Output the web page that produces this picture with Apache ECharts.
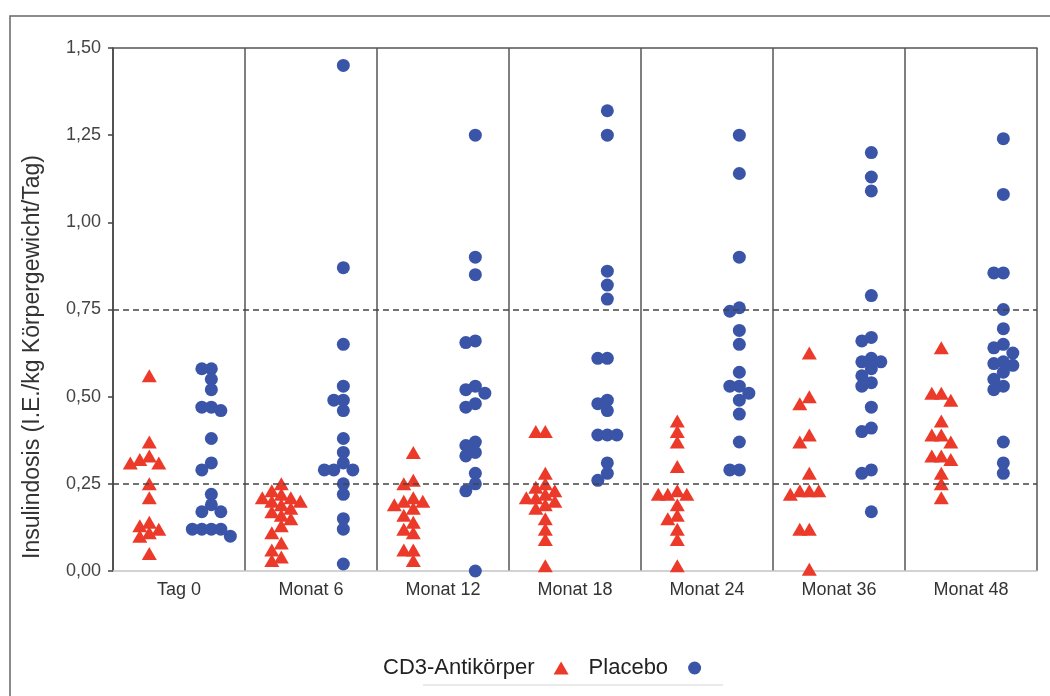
<!DOCTYPE html>
<html>
<head>
<meta charset="utf-8">
<script src="https://cdn.jsdelivr.net/npm/echarts@6/dist/echarts.min.js"></script>
<style>
  html, body { margin: 0; padding: 0; background: #fff; }
  #chart { width: 1050px; height: 696px; }
</style>
</head>
<body>
<div id="chart"></div>
<script>
// data
var categories = ['Tag 0', 'Monat 6', 'Monat 12', 'Monat 18', 'Monat 24', 'Monat 36', 'Monat 48'];

var cd3Values = [
  [0.56, 0.37, 0.33, 0.32, 0.31, 0.31, 0.25, 0.21, 0.14, 0.13, 0.12, 0.11, 0.10, 0.05],
  [0.25, 0.23, 0.22, 0.21, 0.21, 0.20, 0.20, 0.19, 0.18, 0.17, 0.16, 0.15, 0.13, 0.11, 0.08, 0.06, 0.04, 0.03],
  [0.34, 0.26, 0.25, 0.21, 0.20, 0.20, 0.19, 0.18, 0.16, 0.14, 0.12, 0.11, 0.06, 0.06, 0.03],
  [0.40, 0.40, 0.28, 0.25, 0.24, 0.23, 0.22, 0.21, 0.21, 0.20, 0.19, 0.18, 0.15, 0.12, 0.09, 0.015],
  [0.43, 0.40, 0.37, 0.30, 0.23, 0.22, 0.22, 0.22, 0.19, 0.16, 0.15, 0.12, 0.09, 0.015],
  [0.625, 0.50, 0.48, 0.39, 0.37, 0.28, 0.23, 0.23, 0.23, 0.22, 0.12, 0.12, 0.005],
  [0.64, 0.51, 0.51, 0.49, 0.43, 0.39, 0.39, 0.37, 0.33, 0.33, 0.32, 0.28, 0.25, 0.21]
];

var placeboValues = [
  [0.58, 0.58, 0.55, 0.52, 0.47, 0.47, 0.46, 0.38, 0.31, 0.29, 0.22, 0.19, 0.17, 0.17, 0.12, 0.12, 0.12, 0.12, 0.10],
  [1.45, 0.87, 0.65, 0.53, 0.49, 0.49, 0.46, 0.38, 0.34, 0.31, 0.29, 0.29, 0.29, 0.25, 0.22, 0.15, 0.12, 0.02],
  [1.25, 0.90, 0.85, 0.66, 0.655, 0.53, 0.52, 0.51, 0.48, 0.47, 0.37, 0.36, 0.34, 0.33, 0.28, 0.25, 0.23, 0.00],
  [1.32, 1.25, 0.86, 0.82, 0.78, 0.61, 0.61, 0.49, 0.48, 0.46, 0.39, 0.39, 0.39, 0.31, 0.28, 0.26],
  [1.25, 1.14, 0.90, 0.755, 0.745, 0.69, 0.65, 0.57, 0.53, 0.53, 0.51, 0.49, 0.45, 0.37, 0.29, 0.29],
  [1.20, 1.13, 1.09, 0.79, 0.67, 0.66, 0.61, 0.60, 0.60, 0.58, 0.56, 0.54, 0.53, 0.47, 0.41, 0.40, 0.29, 0.28, 0.17],
  [1.24, 1.08, 0.855, 0.855, 0.75, 0.695, 0.65, 0.64, 0.625, 0.60, 0.595, 0.59, 0.57, 0.55, 0.53, 0.52, 0.37, 0.31, 0.28]
];

var refLines = [0.25, 0.75];
var yMin = 0, yMax = 1.5, yStep = 0.25;

// layout
var W = 1050, H = 696;
var gridLeft = 113, gridRight = 13, gridTop = 48, gridBottom = 125;
var pxPerCat = (W - gridLeft - gridRight) / categories.length;
var pxPerY = (H - gridTop - gridBottom) / (yMax - yMin);

// simple beeswarm: spread points sideways so they do not sit on each other
function swarm(values, center) {
  var step = 9.5, minDist = 9;
  var sorted = values.slice().sort(function (a, b) { return b - a; });
  var placed = [];
  var out = [];
  sorted.forEach(function (v) {
    for (var n = 0; n < 40; n++) {
      var k = n === 0 ? 0 : (n % 2 ? -Math.ceil(n / 2) : Math.ceil(n / 2));
      var dx = k * step;
      var ok = placed.every(function (p) {
        var ddx = dx - p.dx, ddy = (v - p.v) * pxPerY;
        return ddx * ddx + ddy * ddy >= minDist * minDist;
      });
      if (ok) {
        placed.push({ dx: dx, v: v });
        out.push([center + dx / pxPerCat, v]);
        break;
      }
    }
  });
  return out;
}

var cd3Data = [], placeboData = [];
categories.forEach(function (c, i) {
  cd3Data = cd3Data.concat(swarm(cd3Values[i], i - 0.225));
  placeboData = placeboData.concat(swarm(placeboValues[i], i + 0.245));
});

var dom = document.getElementById('chart');
var myChart = echarts.init(dom, null, { renderer: 'canvas' });

var option = {
  animation: false,
  backgroundColor: '#fff',
  grid: { left: gridLeft, right: gridRight, top: gridTop, bottom: gridBottom },
  legend: {
    left: 378,
    top: 652,
    align: 'right',
    itemGap: 20,
    itemWidth: 15,
    itemHeight: 13,
    textStyle: { fontFamily: 'Liberation Sans', fontSize: 22, color: '#222', padding: [0, 14, 0, 0] },
    data: [
      { name: 'CD3-Antikörper', icon: 'triangle' },
      { name: 'Placebo', icon: 'circle' }
    ]
  },
  xAxis: [
    {
      type: 'category',
      data: categories,
      boundaryGap: true,
      axisLine: { show: true, onZero: false, lineStyle: { color: '#c4c4c4', width: 1.5 } },
      axisTick: { show: false },
      axisLabel: { fontFamily: 'Liberation Sans', fontSize: 18, color: '#333', margin: 10 },
      splitLine: { show: true, lineStyle: { color: '#555', width: 1.5 } }
    },
    {
      type: 'value',
      position: 'top',
      min: -0.5,
      max: categories.length - 0.5,
      axisLine: { show: true, onZero: false, lineStyle: { color: '#555', width: 1.5 } },
      axisTick: { show: false },
      axisLabel: { show: false },
      splitLine: { show: false }
    }
  ],
  yAxis: {
    type: 'value',
    min: yMin,
    max: yMax,
    interval: yStep,
    axisLine: { show: true, onZero: false, lineStyle: { color: '#444', width: 1.5 } },
    axisTick: { show: true, length: 5, lineStyle: { color: '#444', width: 1.5 } },
    axisLabel: {
      fontFamily: 'Liberation Sans', fontSize: 18, color: '#444', margin: 12,
      formatter: function (v) { return v.toFixed(2).replace('.', ','); }
    },
    splitLine: { show: false }
  },
  graphic: [
    {
      type: 'polyline',
      shape: { points: [[10, H], [10, 16], [W, 16]] },
      style: { stroke: '#666', lineWidth: 1.5, fill: null },
      silent: true
    },
    {
      type: 'line',
      shape: { x1: 423, y1: 685, x2: 723, y2: 685 },
      style: { stroke: '#d4d4d4', lineWidth: 1 },
      silent: true
    },
    {
      type: 'text',
      x: 33,
      y: 357,
      rotation: Math.PI / 2,
      style: {
        text: 'Insulindosis (I.E./kg Körpergewicht/Tag)',
        fontFamily: 'Liberation Sans',
        fontSize: 23,
        fill: '#333',
        textAlign: 'center',
        textVerticalAlign: 'middle'
      }
    }
  ],
  series: [
    {
      name: 'CD3-Antikörper',
      type: 'scatter',
      xAxisIndex: 1,
      symbol: 'triangle',
      symbolSize: [15, 13],
      itemStyle: { color: '#ec3a2a', opacity: 1 },
      data: cd3Data,
      markLine: {
        silent: true,
        symbol: 'none',
        label: { show: false },
        lineStyle: { color: '#444', type: [6, 4], width: 1.5 },
        data: refLines.map(function (v) { return { yAxis: v }; })
      },
      z: 3
    },
    {
      name: 'Placebo',
      type: 'scatter',
      xAxisIndex: 1,
      symbol: 'circle',
      symbolSize: 13,
      itemStyle: { color: '#3a55a8', opacity: 1 },
      data: placeboData,
      z: 3
    }
  ]
};

if (option && typeof option === 'object') {
  myChart.setOption(option);
}

window.addEventListener('resize', myChart.resize);
</script>
</body>
</html>
